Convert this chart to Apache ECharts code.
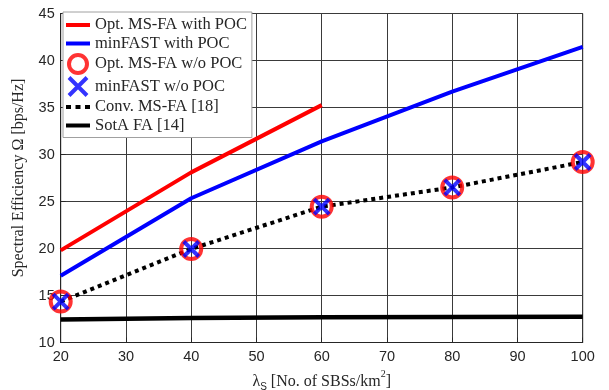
<!DOCTYPE html>
<html>
<head>
<meta charset="utf-8">
<script src="https://cdn.jsdelivr.net/npm/echarts@6/dist/echarts.min.js"></script>
<style>html,body{margin:0;padding:0;background:#fff}#c{width:609px;height:390px}</style>
</head>
<body>
<div id="c"></div>
<script>
const xTicks = [20, 30, 40, 50, 60, 70, 80, 90, 100];
const yTicks = [10, 15, 20, 25, 30, 35, 40, 45];
const lambdaPoc = [20, 40, 60];
const optMsfaPoc = [19.8, 28.1, 35.25];
const lambdaAll = [20, 40, 60, 80, 100];
const minfastPoc = [17.1, 25.35, 31.4, 36.7, 41.45];
const optMsfaNoPoc = [14.35, 19.95, 24.45, 26.5, 29.2];
const minfastNoPoc = [14.35, 19.95, 24.45, 26.5, 29.2];
const convMsfa = [14.35, 19.95, 24.45, 26.5, 29.2];
const sotaFa = [12.45, 12.6, 12.68, 12.72, 12.75];
const names = ['Opt. MS-FA with POC', 'minFAST with POC', 'Opt. MS-FA w/o POC', 'minFAST w/o POC', 'Conv. MS-FA [18]', 'SotA FA [14]'];

const pair = (xs, ys) => ys.map((v, i) => [xs[i], v]);
const crossPath = 'path://M0,0L10,10M10,0L0,10';
const lineIcon = 'path://M0,0L0,0M0,7h24v4h-24zM24,18L24,18';
const dotIcon = 'path://M0,0L0,0M0,7h5v4h-5zM9.5,7h5v4h-5zM19,7h5v4h-5zM24,18L24,18';
const serif = 'Liberation Serif';

const chart = echarts.init(document.getElementById('c'), null, {renderer: 'canvas'});
chart.setOption({
  animation: false,
  grid: {left: 60.7, right: 26.3, top: 13.5, bottom: 47.5, show: true, borderColor: '#262626', borderWidth: 1, containLabel: false, outerBoundsMode: 'none'},
  xAxis: {
    type: 'value', min: xTicks[0], max: xTicks[xTicks.length - 1], interval: 10,
    name: '{l|λ}{s|S} [No. of SBSs/km{p|2}]', nameLocation: 'middle', nameGap: 25,
    nameTextStyle: {fontFamily: serif, fontSize: 16, color: '#262626',
      rich: {l: {fontFamily: serif, fontSize: 16, color: '#262626'},
             s: {fontFamily: 'Liberation Sans', fontSize: 10, color: '#262626', verticalAlign: 'bottom', padding: [0, 0, -3, 0]},
             p: {fontFamily: serif, fontSize: 10, color: '#262626', verticalAlign: 'top', padding: [-4, 0, 0, 0]}}},
    axisLine: {show: true, lineStyle: {color: '#262626', width: 1}},
    axisTick: {show: true, inside: true, length: 5, lineStyle: {color: '#262626'}},
    axisLabel: {fontFamily: 'Liberation Sans', fontSize: 14.5, color: '#262626', margin: 7},
    splitLine: {show: true, lineStyle: {color: '#3a3a3a', width: 1}}
  },
  yAxis: {
    type: 'value', min: yTicks[0], max: yTicks[yTicks.length - 1], interval: 5,
    name: 'Spectral Efficiency Ω [bps/Hz]', nameLocation: 'middle', nameGap: 34,
    nameTextStyle: {fontFamily: serif, fontSize: 16, color: '#262626'},
    axisLine: {show: true, lineStyle: {color: '#262626', width: 1}},
    axisTick: {show: true, inside: true, length: 5, lineStyle: {color: '#262626'}},
    axisLabel: {fontFamily: 'Liberation Sans', fontSize: 14.5, color: '#262626', margin: 6},
    splitLine: {show: true, lineStyle: {color: '#3a3a3a', width: 1}}
  },
  legend: {
    orient: 'vertical', left: 63, top: 12,
    padding: [4, 5, 3, 3],
    itemWidth: 24, itemHeight: 18, itemGap: 0.5,
    backgroundColor: '#ffffff', borderColor: '#a0a0a0', borderWidth: 1, borderRadius: 0,
    textStyle: {fontFamily: serif, fontSize: 16.5, color: '#262626'},
    data: [
      {name: names[0], icon: lineIcon, itemStyle: {color: '#ff0000', borderWidth: 0}},
      {name: names[1], icon: lineIcon, itemStyle: {color: '#0000ff', borderWidth: 0}},
      {name: names[2], icon: 'circle', itemStyle: {color: 'rgba(0,0,0,0)', borderColor: '#ff0000', borderWidth: 4}},
      {name: names[3], icon: crossPath, itemStyle: {color: 'rgba(0,0,0,0)', borderColor: '#0000ff', borderWidth: 4}},
      {name: names[4], icon: dotIcon, itemStyle: {color: '#000000', borderWidth: 0}},
      {name: names[5], icon: lineIcon, itemStyle: {color: '#000000', borderWidth: 0}}
    ]
  },
  series: [
    {name: names[0], type: 'line', data: pair(lambdaPoc, optMsfaPoc), symbol: 'none', color: '#ff0000', lineStyle: {color: '#ff0000', width: 4}, z: 3},
    {name: names[1], type: 'line', data: pair(lambdaAll, minfastPoc), symbol: 'none', color: '#0000ff', lineStyle: {color: '#0000ff', width: 4}, z: 3},
    {name: names[4], type: 'line', data: pair(lambdaAll, convMsfa), symbol: 'none', color: '#000000', lineStyle: {color: '#000000', width: 4, type: [4, 4]}, z: 4},
    {name: names[5], type: 'line', data: pair(lambdaAll, sotaFa), symbol: 'none', color: '#000000', lineStyle: {color: '#000000', width: 4.5}, z: 4},
    {name: names[2], type: 'scatter', data: pair(lambdaAll, optMsfaNoPoc), symbol: 'circle', symbolSize: 20, color: '#ff0000',
      itemStyle: {color: 'rgba(0,0,0,0)', borderColor: '#ff0000', borderWidth: 4}, z: 5},
    {name: names[3], type: 'scatter', data: pair(lambdaAll, minfastNoPoc), symbol: crossPath, symbolSize: 15, symbolKeepAspect: true, color: '#0000ff',
      itemStyle: {color: 'rgba(0,0,0,0)', borderColor: '#0000ff', borderWidth: 4}, z: 6}
  ]
});
</script>
</body>
</html>
